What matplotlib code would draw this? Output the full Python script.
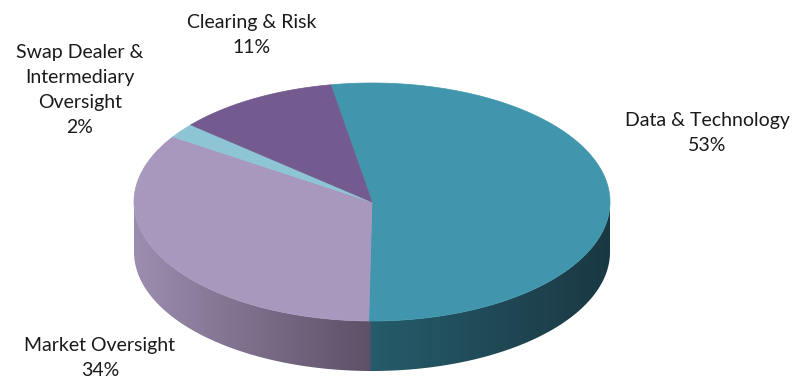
import numpy as np
import matplotlib.pyplot as plt
from matplotlib.patches import Polygon
from matplotlib.colors import LinearSegmentedColormap

# slice data, clockwise from the start angle
labels = ['Data & Technology', 'Market Oversight',
          'Swap Dealer &\nIntermediary\nOversight', 'Clearing & Risk']
shares = [53, 34, 2, 11]

top_colors = ['#4196AE', '#A898BD', '#8EC5D5', '#735A8F']
side_colors = [('#265C6B', '#1A3843'), ('#9D8DAF', '#5D5067'),
               ('#6E9EAB', '#4A7580'), ('#5C4873', '#3E3050')]
label_pos = [(707, 133), (100, 358), (80, 90), (252, 35)]

# geometry in pixel units
cx, cy = 372, 202
rx, ry = 238, 119
depth = 50
start_angle = 100

fig = plt.figure(figsize=(7.93, 3.79), dpi=100)
ax = fig.add_axes([0, 0, 1, 1])
ax.set_xlim(0, 793)
ax.set_ylim(379, 0)
ax.axis('off')


def arc(t0, t1, dy=0, n=200):
    t = np.radians(np.linspace(t0, t1, n))
    return np.column_stack([cx + rx * np.cos(t), cy - ry * np.sin(t) + dy])


fracs = np.array(shares) / np.sum(shares)
bounds = start_angle - 360 * np.concatenate([[0], np.cumsum(fracs)])

# side walls (only the front half, 180..360 deg, is visible)
for i in range(len(shares)):
    hi, lo = bounds[i], bounds[i + 1]
    for k in (-1, 0, 1):
        a = max(lo, -180 + 360 * k)
        b = min(hi, 0 + 360 * k)
        if a >= b:
            continue
        # small overlap so neighbouring walls leave no seam
        top = arc(a - 0.4, b + 0.4)
        bot = arc(b + 0.4, a - 0.4, dy=depth)
        poly = Polygon(np.vstack([top, bot]), closed=True,
                       facecolor='none', edgecolor='none')
        ax.add_patch(poly)
        x0, x1 = top[0, 0], top[-1, 0]
        cmap = LinearSegmentedColormap.from_list('wall', side_colors[i])
        grad = np.linspace(0, 1, 256)[None, :]
        if x0 > x1:
            grad = grad[:, ::-1]
            x0, x1 = x1, x0
        im = ax.imshow(grad, cmap=cmap, aspect='auto',
                       extent=[x0 - 1, x1 + 1, cy + ry + depth + 2, cy - 2],
                       interpolation='bilinear', zorder=1)
        im.set_clip_path(poly)

# top face
for i in range(len(shares)):
    pts = np.vstack([[cx, cy], arc(bounds[i], bounds[i + 1])])
    ax.add_patch(Polygon(pts, closed=True, facecolor=top_colors[i],
                         edgecolor=top_colors[i], linewidth=0.5, zorder=2))

for i, lab in enumerate(labels):
    x, y = label_pos[i]
    ax.text(x, y, f'{lab}\n{shares[i]}%', ha='center', va='center',
            fontsize=14, family='Lato', color='#1a1a1a',
            linespacing=1.55)

fig.savefig('out.png', dpi=100)
